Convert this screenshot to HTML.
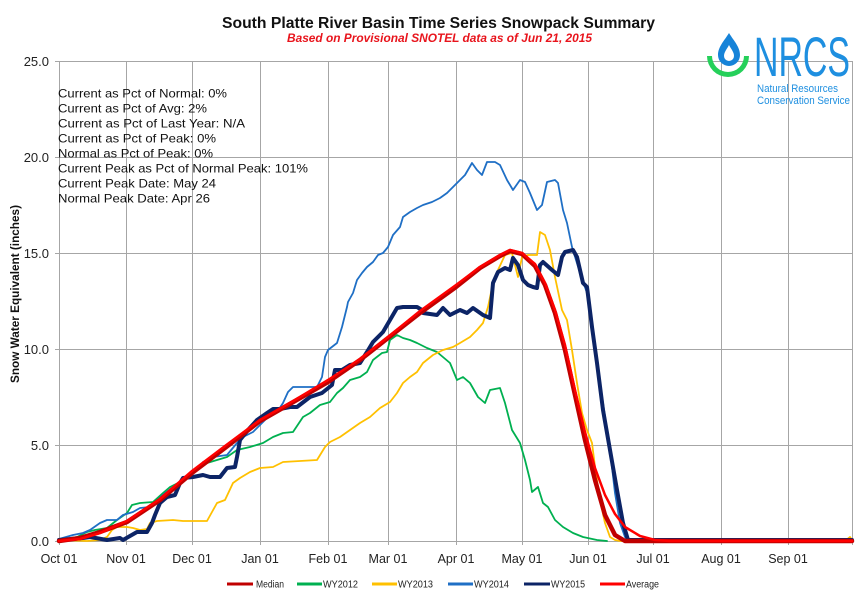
<!DOCTYPE html>
<html><head><meta charset="utf-8"><style>
html,body{margin:0;padding:0;background:#fff;}
svg{display:block;}
text{font-family:"Liberation Sans",Arial,sans-serif;}
</style></head><body>
<svg width="867" height="595" viewBox="0 0 867 595" xmlns="http://www.w3.org/2000/svg">
<rect width="867" height="595" fill="#fff"/>
<!-- grid -->
<g stroke="#a6a6a6" stroke-width="1" fill="none" shape-rendering="crispEdges">
<line x1="59" y1="61.5" x2="852" y2="61.5"/>
<line x1="59" y1="157.5" x2="852" y2="157.5"/>
<line x1="59" y1="253.5" x2="852" y2="253.5"/>
<line x1="59" y1="349.5" x2="852" y2="349.5"/>
<line x1="59" y1="445.5" x2="852" y2="445.5"/>
<line x1="55" y1="541.5" x2="852" y2="541.5"/>
<line x1="55" y1="61.5" x2="59" y2="61.5"/>
<line x1="55" y1="157.5" x2="59" y2="157.5"/>
<line x1="55" y1="253.5" x2="59" y2="253.5"/>
<line x1="55" y1="349.5" x2="59" y2="349.5"/>
<line x1="55" y1="445.5" x2="59" y2="445.5"/>
<line x1="59.5" y1="61" x2="59.5" y2="545"/>
<line x1="126.5" y1="61" x2="126.5" y2="545"/>
<line x1="192.5" y1="61" x2="192.5" y2="545"/>
<line x1="260.5" y1="61" x2="260.5" y2="545"/>
<line x1="328.5" y1="61" x2="328.5" y2="545"/>
<line x1="388.5" y1="61" x2="388.5" y2="545"/>
<line x1="456.5" y1="61" x2="456.5" y2="545"/>
<line x1="522.5" y1="61" x2="522.5" y2="545"/>
<line x1="588.5" y1="61" x2="588.5" y2="545"/>
<line x1="653.5" y1="61" x2="653.5" y2="545"/>
<line x1="721.5" y1="61" x2="721.5" y2="545"/>
<line x1="788.5" y1="61" x2="788.5" y2="545"/>
<line x1="852.5" y1="61" x2="852.5" y2="545"/>
</g>
<!-- y labels -->
<g font-size="13" fill="#222" text-anchor="end">
<text x="49" y="66">25.0</text>
<text x="49" y="162">20.0</text>
<text x="49" y="258">15.0</text>
<text x="49" y="354">10.0</text>
<text x="49" y="450">5.0</text>
<text x="49" y="546">0.0</text>
</g>
<!-- x labels -->
<g font-size="12.5" fill="#222" text-anchor="middle">
<text x="59" y="563">Oct 01</text>
<text x="126" y="563">Nov 01</text>
<text x="192" y="563">Dec 01</text>
<text x="260" y="563">Jan 01</text>
<text x="328" y="563">Feb 01</text>
<text x="388" y="563">Mar 01</text>
<text x="456" y="563">Apr 01</text>
<text x="522" y="563">May 01</text>
<text x="588" y="563">Jun 01</text>
<text x="653" y="563">Jul 01</text>
<text x="721" y="563">Aug 01</text>
<text x="788" y="563">Sep 01</text>
</g>
<!-- y axis title -->
<text transform="translate(19,294) rotate(-90)" font-size="12" font-weight="bold" text-anchor="middle" textLength="178" lengthAdjust="spacingAndGlyphs" fill="#111">Snow Water Equivalent (inches)</text>
<!-- title -->
<text x="222" y="28" font-size="15.5" font-weight="bold" textLength="433" lengthAdjust="spacingAndGlyphs" fill="#111">South Platte River Basin Time Series Snowpack Summary</text>
<text x="287" y="42" font-size="12" font-weight="bold" font-style="italic" textLength="305" lengthAdjust="spacingAndGlyphs" fill="#e8141c">Based on Provisional SNOTEL data as of Jun 21, 2015</text>
<!-- stats -->
<g font-size="12" fill="#111" xml:space="preserve">
<text x="58" y="97.5" textLength="169" lengthAdjust="spacingAndGlyphs">Current  as Pct of Normal: 0%</text>
<text x="58" y="112.5" textLength="149" lengthAdjust="spacingAndGlyphs">Current  as Pct of Avg: 2%</text>
<text x="58" y="127.5" textLength="187" lengthAdjust="spacingAndGlyphs">Current  as Pct of Last Year: N/A</text>
<text x="58" y="142.5" textLength="158" lengthAdjust="spacingAndGlyphs">Current  as Pct of Peak: 0%</text>
<text x="58" y="157.5" textLength="155" lengthAdjust="spacingAndGlyphs">Normal  as Pct of Peak: 0%</text>
<text x="58" y="172.5" textLength="250" lengthAdjust="spacingAndGlyphs">Current  Peak as Pct of Normal  Peak: 101%</text>
<text x="58" y="187.5" textLength="158" lengthAdjust="spacingAndGlyphs">Current  Peak Date: May 24</text>
<text x="58" y="202.5" textLength="152" lengthAdjust="spacingAndGlyphs">Normal  Peak Date: Apr 26</text>
</g>
<!-- logo -->
<g>
<path d="M707,56 A21,21 0 0 0 749,56 L744,56 A16,16 0 0 1 712,56 Z" fill="#25d05a"/>
<path d="M729,33 C724,41 718,47 718,55 A11,11 0 0 0 740,55 C740,47 734,41 729,33 Z M729,45 C727,49 724,52 724,56 A5,5 0 0 0 734,56 C734,52 731,49 729,45 Z" fill="#1683d8" fill-rule="evenodd"/>
<text x="754" y="76" font-size="56" textLength="96" lengthAdjust="spacingAndGlyphs" fill="#1e8fe0">NRCS</text>
<text x="757" y="92" font-size="11" textLength="81" lengthAdjust="spacingAndGlyphs" fill="#1e8fe0">Natural Resources</text>
<text x="757" y="104" font-size="11" textLength="93" lengthAdjust="spacingAndGlyphs" fill="#1e8fe0">Conservation Service</text>
</g>
<!-- series -->
<g fill="none" stroke-linejoin="round" stroke-linecap="round">
<polyline stroke="#00b050" stroke-width="1.8" points="59,540 77,537 87,532 95,530 107,528 117,520 127,513 132,505 140,503 153,502 163,493 170,487 180,482 187,477 197,470 207,463 217,460 227,457 237,450 250,447 263,443 273,437 283,433 293,432 303,417 310,413 320,405 330,402 337,393 343,388 350,380 360,377 367,372 373,360 382,353 387,352 390,340 397,335 403,338 410,340 417,343 427,348 437,352 450,363 457,380 463,377 470,383 478,397 485,403 490,390 500,388 505,403 512,430 520,443 525,460 530,480 532,492 538,487 543,503 548,507 555,520 563,527 573,533 583,537 597,540 607,541"/>
<polyline stroke="#ffc000" stroke-width="1.8" points="59,540 87,541 100,540 107,537 112,530 117,527 127,527 133,528 140,530 147,529 150,523 157,521 173,520 183,521 207,521 212,512 217,503 225,500 233,483 240,478 250,472 260,468 273,467 283,462 317,460 325,447 330,442 340,437 350,430 360,423 370,417 380,408 390,402 397,393 403,383 410,377 417,372 423,363 433,355 443,350 453,347 460,343 470,337 477,330 483,323 488,307 493,283 498,270 505,255 512,253 518,277 522,257 528,255 537,255 540,232 545,235 550,250 555,277 562,310 567,320 572,350 577,383 582,413 587,430 592,443 595,467 600,500 605,523 610,537 615,540 620,541 845,541 850,537 853,541"/>
<polyline stroke="#1f6fc5" stroke-width="1.8" points="59,539 73,535 83,533 90,530 100,523 107,520 117,520 123,515 133,512 140,508 150,507 163,495 173,487 180,482 187,478 197,470 203,462 213,457 227,455 237,443 243,437 253,432 260,425 267,418 277,412 283,403 288,392 293,387 317,387 322,377 325,357 328,350 337,343 342,327 347,307 348,302 353,293 357,280 362,273 367,267 373,262 378,255 383,253 388,247 393,235 400,227 403,217 410,212 417,208 423,205 432,202 440,198 447,193 457,183 465,175 472,163 477,170 482,175 487,162 495,162 500,165 507,180 513,190 520,180 525,182 530,193 537,210 542,205 547,182 555,180 558,183 563,210 567,223 572,247 580,273 587,293 592,323 597,363 603,403 610,450 615,493 620,523 625,537 630,541 852,541"/>
<polyline stroke="#0c2466" stroke-width="4" points="59,540 83,538 90,537 107,540 120,538 123,540 137,532 147,532 152,523 155,515 160,503 167,497 175,495 180,483 183,478 193,477 203,475 210,477 220,477 227,468 235,467 237,457 240,440 248,430 257,420 267,413 273,409 280,409 290,407 297,407 310,397 322,393 332,385 335,370 342,370 350,365 360,363 367,352 373,342 383,332 390,320 397,308 403,307 417,307 422,310 423,313 437,315 443,308 450,315 460,310 467,313 473,308 483,315 490,318 493,283 498,272 505,268 510,270 513,258 518,265 523,280 528,285 533,287 537,288 540,265 543,262 552,270 558,275 562,257 565,252 573,250 577,257 583,283 587,287 592,327 597,363 603,410 610,450 617,490 623,523 628,540 852,540"/>
<polyline stroke="#c00000" stroke-width="4.5" points="59,541 80,538 100,532 127,522 160,500 192,473 225,448 260,421 295,401 328,382 360,360 388,338 420,313 456,287 480,268 500,256 510,251 522,254 535,266 545,285 555,313 565,350 575,395 585,440 595,480 605,515 615,535 625,541 852,541"/>
<polyline stroke="#ff0000" stroke-width="2.5" points="59,541 80,539 100,533 127,521 160,499 192,471 225,446 260,420 295,400 328,380 360,359 388,337 420,311 456,285 480,267 500,255 510,250 522,253 535,264 545,283 555,310 565,345 575,390 585,432 595,468 605,495 615,514 625,527 640,536 655,540 670,541 852,541"/>
</g>
<!-- legend -->
<g stroke-width="3">
<line x1="227" y1="584" x2="253" y2="584" stroke="#c00000"/>
<line x1="297" y1="584" x2="322" y2="584" stroke="#00b050"/>
<line x1="372" y1="584" x2="397" y2="584" stroke="#ffc000"/>
<line x1="448" y1="584" x2="473" y2="584" stroke="#1f6fc5"/>
<line x1="524" y1="584" x2="550" y2="584" stroke="#0c2466"/>
<line x1="600" y1="584" x2="625" y2="584" stroke="#ff0000"/>
</g>
<g font-size="10" fill="#222">
<text x="256" y="587.5" textLength="28" lengthAdjust="spacingAndGlyphs">Median</text>
<text x="323" y="587.5" textLength="35" lengthAdjust="spacingAndGlyphs">WY2012</text>
<text x="398" y="587.5" textLength="35" lengthAdjust="spacingAndGlyphs">WY2013</text>
<text x="474" y="587.5" textLength="35" lengthAdjust="spacingAndGlyphs">WY2014</text>
<text x="551" y="587.5" textLength="34" lengthAdjust="spacingAndGlyphs">WY2015</text>
<text x="626" y="587.5" textLength="33" lengthAdjust="spacingAndGlyphs">Average</text>
</g>
</svg>
</body></html>
